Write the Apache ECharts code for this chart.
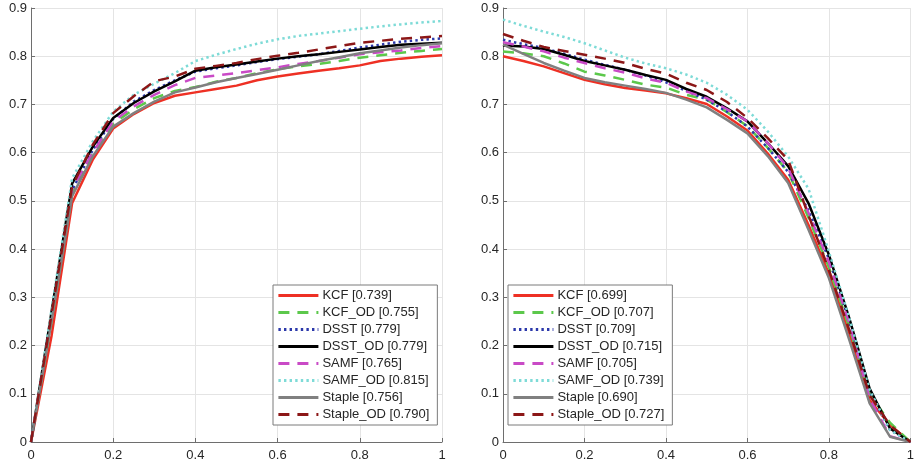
<!DOCTYPE html>
<html>
<head>
<meta charset="utf-8">
<script src="https://cdn.jsdelivr.net/npm/echarts@6/dist/echarts.min.js"></script>
<style>
html,body{margin:0;padding:0;background:#fff;}
#chart{width:917px;height:469px;}
</style>
</head>
<body>
<div id="chart"></div>
<script>
// ---- data ----
const thresholds = [0,0.05,0.1,0.15,0.2,0.25,0.3,0.35,0.4,0.45,0.5,0.55,0.6,0.65,0.7,0.75,0.8,0.85,0.9,0.95,1];
const xTicks = [0,0.2,0.4,0.6,0.8,1];
const yTicks = [0,0.1,0.2,0.3,0.4,0.5,0.6,0.7,0.8,0.9];
const trackers = ['KCF','KCF_OD','DSST','DSST_OD','SAMF','SAMF_OD','Staple','Staple_OD'];
const leftScores  = ['0.739','0.755','0.779','0.779','0.765','0.815','0.756','0.790'];
const rightScores = ['0.699','0.707','0.709','0.715','0.705','0.739','0.690','0.727'];

// left panel
const leftKCF      = [0,0.22,0.495,0.585,0.65,0.68,0.703,0.718,0.725,0.732,0.739,0.75,0.758,0.764,0.77,0.775,0.781,0.79,0.795,0.799,0.802];
const leftKCF_OD   = [0,0.25,0.515,0.6,0.66,0.69,0.713,0.728,0.736,0.747,0.755,0.765,0.773,0.779,0.784,0.79,0.797,0.802,0.807,0.811,0.815];
const leftDSST     = [0,0.26,0.522,0.605,0.67,0.706,0.73,0.75,0.768,0.775,0.781,0.788,0.794,0.799,0.804,0.811,0.818,0.824,0.83,0.834,0.837];
const leftDSST_OD  = [0,0.27,0.536,0.612,0.672,0.703,0.727,0.748,0.77,0.777,0.783,0.789,0.795,0.8,0.804,0.809,0.814,0.819,0.824,0.826,0.828];
const leftSAMF     = [0,0.26,0.525,0.6,0.665,0.696,0.72,0.74,0.755,0.76,0.765,0.771,0.777,0.784,0.79,0.797,0.804,0.808,0.812,0.817,0.821];
const leftSAMF_OD  = [0,0.275,0.547,0.623,0.685,0.72,0.743,0.765,0.79,0.803,0.815,0.826,0.835,0.842,0.847,0.852,0.857,0.862,0.866,0.87,0.873];
const leftStaple   = [0,0.25,0.51,0.592,0.654,0.682,0.706,0.725,0.735,0.746,0.755,0.763,0.772,0.781,0.79,0.798,0.806,0.812,0.818,0.823,0.827];
const leftStaple_OD= [0,0.265,0.53,0.616,0.682,0.717,0.748,0.758,0.774,0.78,0.786,0.794,0.801,0.807,0.814,0.821,0.828,0.832,0.836,0.839,0.842];

// right panel
const rightKCF      = [0.80,0.79,0.779,0.765,0.751,0.742,0.734,0.729,0.723,0.713,0.701,0.675,0.646,0.598,0.544,0.45,0.349,0.225,0.087,0.035,0];
const rightKCF_OD   = [0.81,0.806,0.80,0.785,0.768,0.76,0.751,0.741,0.735,0.72,0.71,0.684,0.655,0.61,0.56,0.465,0.362,0.238,0.10,0.04,0];
const rightDSST     = [0.834,0.825,0.817,0.805,0.793,0.782,0.772,0.76,0.746,0.728,0.71,0.685,0.654,0.61,0.56,0.48,0.38,0.25,0.105,0.025,0];
const rightDSST_OD  = [0.822,0.82,0.815,0.803,0.79,0.781,0.772,0.761,0.751,0.732,0.716,0.692,0.665,0.62,0.572,0.495,0.388,0.257,0.111,0.028,0];
const rightSAMF     = [0.829,0.82,0.81,0.797,0.786,0.775,0.766,0.754,0.745,0.727,0.713,0.69,0.665,0.62,0.568,0.475,0.373,0.246,0.09,0.012,0];
const rightSAMF_OD  = [0.876,0.863,0.851,0.84,0.827,0.812,0.797,0.785,0.775,0.762,0.745,0.72,0.689,0.644,0.592,0.525,0.395,0.257,0.108,0.025,0];
const rightStaple   = [0.824,0.805,0.786,0.77,0.755,0.746,0.739,0.732,0.724,0.71,0.694,0.668,0.64,0.593,0.537,0.44,0.34,0.212,0.08,0.011,0];
const rightStaple_OD= [0.846,0.832,0.819,0.811,0.803,0.795,0.786,0.774,0.764,0.745,0.73,0.705,0.672,0.63,0.585,0.47,0.357,0.232,0.097,0.035,0];

const leftData  = [leftKCF,leftKCF_OD,leftDSST,leftDSST_OD,leftSAMF,leftSAMF_OD,leftStaple,leftStaple_OD];
const rightData = [rightKCF,rightKCF_OD,rightDSST,rightDSST_OD,rightSAMF,rightSAMF_OD,rightStaple,rightStaple_OD];

// ---- styles ----
const colors = ['#ee3024','#5cc84b','#2b38aa','#000000','#c94ac6','#7edbd7','#808080','#8c1717'];
const DASH = [11,8], DOT = [2.4,3.2];
const types  = ['solid',DASH,DOT,'solid',DASH,DOT,'solid',DASH];
const FONT = '"Liberation Sans", Arial, Helvetica, sans-serif';
const TXT = '#262626';
const AX = '#6e6e6e';

function zip(ys){ return thresholds.map((x,i)=>[x,ys[i]]); }

const grids = [
  {left:31, top:8, width:411, height:434},
  {left:503, top:8, width:409, height:434}
];
function xAx(gi){
  return {type:'value', gridIndex:gi, min:xTicks[0], max:xTicks[xTicks.length-1], interval:xTicks[1]-xTicks[0],
    axisLine:{show:true, onZero:false, lineStyle:{color:AX,width:1}},
    axisTick:{show:true, inside:true, length:4, lineStyle:{color:AX}},
    splitLine:{show:true, lineStyle:{color:'#e4e4e4',width:1}},
    axisLabel:{color:TXT, fontSize:13, fontFamily:FONT, margin:7}};
}
function yAx(gi){
  return {type:'value', gridIndex:gi, min:yTicks[0], max:yTicks[yTicks.length-1], interval:0.1,
    axisLine:{show:true, onZero:false, lineStyle:{color:AX,width:1}},
    axisTick:{show:true, inside:true, length:4, lineStyle:{color:AX}},
    splitLine:{show:true, lineStyle:{color:'#e4e4e4',width:1}},
    axisLabel:{color:TXT, fontSize:13, fontFamily:FONT, margin:4}};
}

const series = [];
const leftNames = [], rightNames = [];
trackers.forEach((t,i)=>{
  const n = t + ' [' + leftScores[i] + ']';
  leftNames.push(n);
  series.push({name:n, type:'line', xAxisIndex:0, yAxisIndex:0, data:zip(leftData[i]),
    symbol:'none', smooth:false, animation:false, color:colors[i],
    lineStyle:{color:colors[i], width:2.5, type:types[i], cap:'butt'}});
});
trackers.forEach((t,i)=>{
  const n = t + ' [' + rightScores[i] + ']';
  rightNames.push(n);
  series.push({name:n, type:'line', xAxisIndex:1, yAxisIndex:1, data:zip(rightData[i]),
    symbol:'none', smooth:false, animation:false, color:colors[i],
    lineStyle:{color:colors[i], width:2.5, type:types[i], cap:'butt'}});
});

function legend(left, names){
  return {data:names, orient:'vertical', left:left, top:285,
    itemWidth:40, itemHeight:14, itemGap:4, padding:[4,8,4,4],
    backgroundColor:'#ffffff', borderColor:'#7a7a7a', borderWidth:1, borderRadius:0,
    selectedMode:false,
    itemStyle:{color:'rgba(0,0,0,0)', borderWidth:0, opacity:0},
    lineStyle:{width:2.8},
    textStyle:{color:TXT, fontSize:13, fontFamily:FONT, padding:[0,0,0,-1]}};
}

const chart = echarts.init(document.getElementById('chart'), null, {renderer:'canvas'});
chart.setOption({
  animation:false,
  backgroundColor:'#ffffff',
  grid:grids,
  xAxis:[xAx(0), xAx(1)],
  yAxis:[yAx(0), yAx(1)],
  legend:[legend(273, leftNames), legend(508, rightNames)],
  series:series
});
</script>
</body>
</html>
